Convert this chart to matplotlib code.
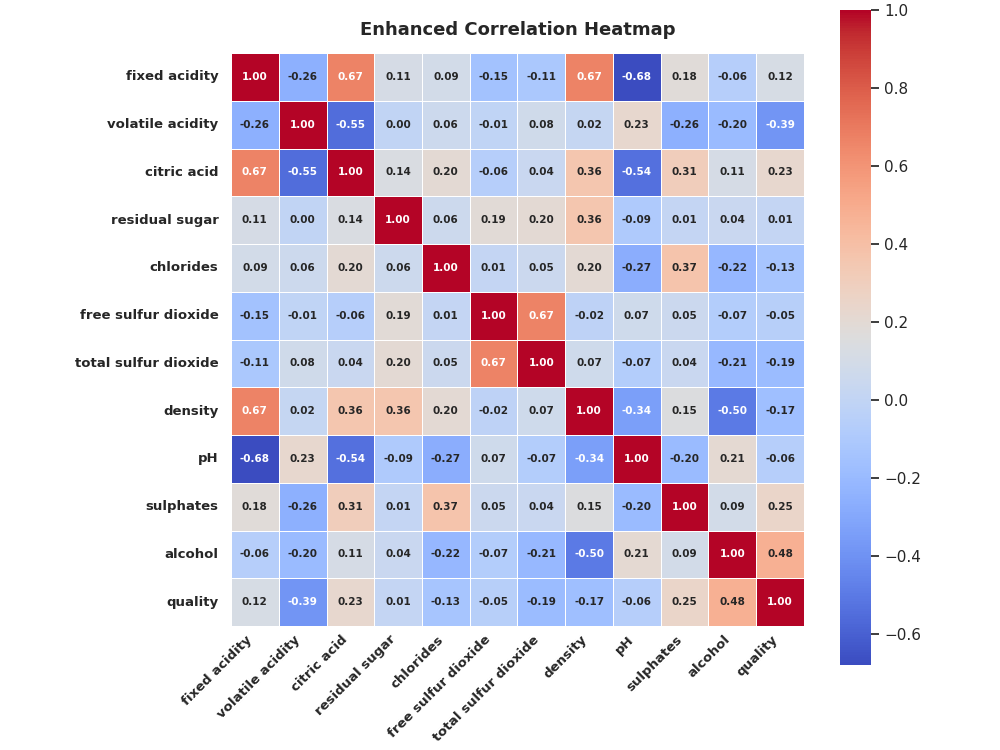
import numpy as np
import pandas as pd
import matplotlib
matplotlib.use("Agg")
import matplotlib.pyplot as plt
import seaborn as sns

labels = ["fixed acidity", "volatile acidity", "citric acid", "residual sugar",
          "chlorides", "free sulfur dioxide", "total sulfur dioxide", "density",
          "pH", "sulphates", "alcohol", "quality"]

corr_values = [
    [1.00, -0.26, 0.67, 0.11, 0.09, -0.15, -0.11, 0.67, -0.68, 0.18, -0.06, 0.12],
    [-0.26, 1.00, -0.55, 0.00, 0.06, -0.01, 0.08, 0.02, 0.23, -0.26, -0.20, -0.39],
    [0.67, -0.55, 1.00, 0.14, 0.20, -0.06, 0.04, 0.36, -0.54, 0.31, 0.11, 0.23],
    [0.11, 0.00, 0.14, 1.00, 0.06, 0.19, 0.20, 0.36, -0.09, 0.01, 0.04, 0.01],
    [0.09, 0.06, 0.20, 0.06, 1.00, 0.01, 0.05, 0.20, -0.27, 0.37, -0.22, -0.13],
    [-0.15, -0.01, -0.06, 0.19, 0.01, 1.00, 0.67, -0.02, 0.07, 0.05, -0.07, -0.05],
    [-0.11, 0.08, 0.04, 0.20, 0.05, 0.67, 1.00, 0.07, -0.07, 0.04, -0.21, -0.19],
    [0.67, 0.02, 0.36, 0.36, 0.20, -0.02, 0.07, 1.00, -0.34, 0.15, -0.50, -0.17],
    [-0.68, 0.23, -0.54, -0.09, -0.27, 0.07, -0.07, -0.34, 1.00, -0.20, 0.21, -0.06],
    [0.18, -0.26, 0.31, 0.01, 0.37, 0.05, 0.04, 0.15, -0.20, 1.00, 0.09, 0.25],
    [-0.06, -0.20, 0.11, 0.04, -0.22, -0.07, -0.21, -0.50, 0.21, 0.09, 1.00, 0.48],
    [0.12, -0.39, 0.23, 0.01, -0.13, -0.05, -0.19, -0.17, -0.06, 0.25, 0.48, 1.00],
]

corr = pd.DataFrame(np.array(corr_values), index=labels, columns=labels)

sns.set_theme(style="white")

fig = plt.figure(figsize=(10, 7.5), dpi=100)
ax = fig.add_axes([0.231, 0.1653, 0.573, 0.764])
cax = fig.add_axes([0.840, 0.1133, 0.031, 0.873])

sns.heatmap(corr, ax=ax, cbar_ax=cax, cmap="coolwarm", annot=True, fmt=".2f",
            annot_kws={"size": 7.5, "weight": "bold"},
            linewidths=0.5, linecolor="white", square=False,
            vmin=-0.68, vmax=1.0)

ax.set_title("Enhanced Correlation Heatmap", fontsize=13, fontweight="bold", pad=13)
ax.set_xticklabels(labels, rotation=45, ha="right", fontsize=9.5, fontweight="bold")
ax.set_yticklabels(labels, rotation=0, fontsize=9.5, fontweight="bold")
ax.tick_params(axis="y", length=0, pad=9)
ax.tick_params(axis="x", length=0, pad=5)
cax.tick_params(labelsize=11)

plt.savefig("out.png", dpi=100)
